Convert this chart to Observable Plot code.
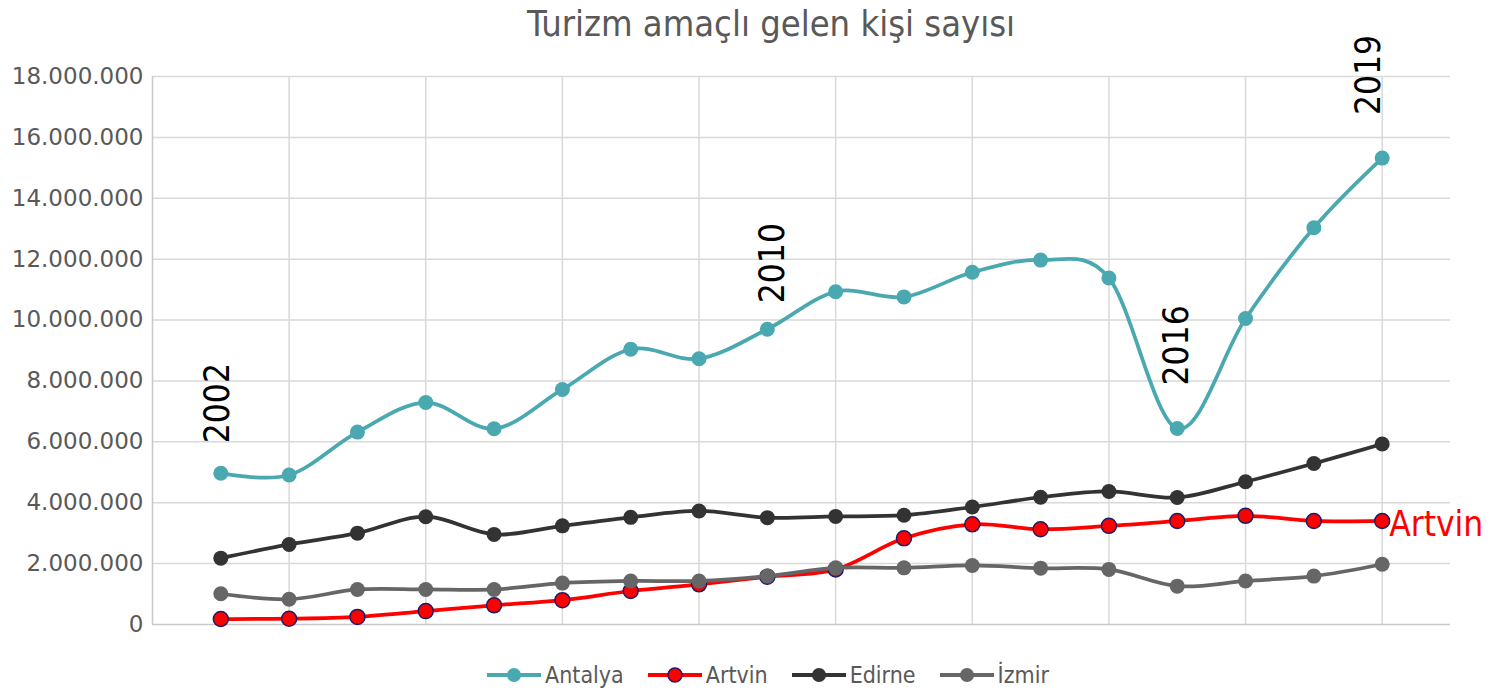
<!DOCTYPE html>
<html>
<head>
<meta charset="utf-8">
<script src="https://cdn.jsdelivr.net/npm/d3@7"></script>
<script src="https://cdn.jsdelivr.net/npm/@observablehq/plot@0.6"></script>
<style>
  body { margin: 0; background: #fff; width: 1506px; height: 691px; overflow: hidden; font-family: "DejaVu Sans", sans-serif; }
  #title { height: 36px; line-height: 48px; text-align: center; font-family: "DejaVu Sans Condensed", "DejaVu Sans", sans-serif; font-size: 36px; color: #595959; padding-left: 36px; white-space: nowrap; }
  #chart { height: 614px; }
  #legend { height: 41px; display: flex; justify-content: center; align-items: center; padding-left: 30px; padding-top: 8px; box-sizing: border-box; font-family: "DejaVu Sans Condensed", "DejaVu Sans", sans-serif; font-size: 23px; color: #595959; }
  .item { display: flex; align-items: center; margin: 0 12px; }
  .item svg { margin-right: 4px; flex: none; }
</style>
</head>
<body>
<div id="title">Turizm amaçlı gelen kişi sayısı</div>
<div id="chart"></div>
<div id="legend"></div>
<script>
const years = [2002, 2003, 2004, 2005, 2006, 2007, 2008, 2009, 2010, 2011, 2012, 2013, 2014, 2015, 2016, 2017, 2018, 2019];
const seriesNames = ["Antalya", "Artvin", "Edirne", "İzmir"];
const antalya = [4970000, 4910000, 6320000, 7290000, 6430000, 7720000, 9040000, 8730000, 9700000, 10930000, 10760000, 11570000, 11970000, 11380000, 6440000, 10050000, 13030000, 15320000];
const artvin  = [180000, 190000, 250000, 440000, 630000, 800000, 1100000, 1320000, 1570000, 1810000, 2830000, 3290000, 3130000, 3240000, 3400000, 3570000, 3400000, 3400000];
const edirne  = [2180000, 2630000, 3000000, 3540000, 2960000, 3240000, 3520000, 3730000, 3510000, 3550000, 3590000, 3860000, 4180000, 4370000, 4170000, 4690000, 5290000, 5930000];
const izmir   = [1010000, 830000, 1150000, 1150000, 1150000, 1360000, 1430000, 1430000, 1590000, 1860000, 1860000, 1940000, 1850000, 1810000, 1260000, 1430000, 1590000, 1980000];
const yTicks = [0, 2000000, 4000000, 6000000, 8000000, 10000000, 12000000, 14000000, 16000000, 18000000];
const xGridYears = [2003, 2005, 2007, 2009, 2011, 2013, 2015, 2017, 2019];
const labelYears = [2002, 2010, 2016, 2019];

const valuesByName = {"Antalya": antalya, "Artvin": artvin, "Edirne": edirne, "İzmir": izmir};
const styles = {
  "Antalya": {color: "#4aa8b0", fill: "#4aa8b0", stroke: "none"},
  "Artvin":  {color: "#ff0000", fill: "#ff0000", stroke: "#1c1c66"},
  "Edirne":  {color: "#333333", fill: "#333333", stroke: "none"},
  "İzmir":   {color: "#666666", fill: "#666666", stroke: "none"}
};

const rows = [];
for (const name of seriesNames) {
  valuesByName[name].forEach((v, i) => rows.push({series: name, year: years[i], value: v}));
}

const fmt = d => d3.format(",")(d).replace(/,/g, ".");

const marks = [
  Plot.ruleY(yTicks.slice(1), {stroke: "#d9d9d9", strokeWidth: 1.5}),
  Plot.ruleX(xGridYears, {stroke: "#d9d9d9", strokeWidth: 1.5}),
  Plot.ruleX([2001], {stroke: "#c8c8c8", strokeWidth: 1.5}),
  Plot.ruleY([0], {stroke: "#c8c8c8", strokeWidth: 1.5})
];
for (const name of seriesNames) {
  const d = rows.filter(r => r.series === name);
  const s = styles[name];
  marks.push(Plot.line(d, {x: "year", y: "value", stroke: s.color, strokeWidth: 3.75, curve: "cardinal"}));
  marks.push(Plot.dot(d, {x: "year", y: "value", r: 7.5, fill: s.fill, stroke: s.stroke, strokeWidth: s.stroke === "none" ? 0 : 1.5}));
}
const antRows = rows.filter(r => r.series === "Antalya");
const labelOpts = [
  {dx: -3, dy: -30},
  {dx: 5, dy: -26},
  {dx: 0, dy: -43},
  {dx: -13, dy: -43}
];
labelYears.forEach((yr, k) => {
  marks.push(Plot.text(antRows.filter(r => r.year === yr), {
    x: "year", y: "value", text: d => String(d.year),
    rotate: -90, textAnchor: "start", lineAnchor: "middle",
    fontSize: 35, fontFamily: "DejaVu Sans Condensed", fill: "#000",
    dx: labelOpts[k].dx, dy: labelOpts[k].dy
  }));
});
const artLast = rows.filter(r => r.series === "Artvin" && r.year === years[years.length - 1]);
marks.push(Plot.text(artLast, {
  x: "year", y: "value", text: d => d.series, textAnchor: "start", lineAnchor: "middle",
  fontSize: 35, fontFamily: "DejaVu Sans Condensed", fill: "#ff0000", dx: 7, dy: 4
}));

const plot = Plot.plot({
  width: 1506,
  height: 614,
  marginLeft: 152,
  marginRight: 56,
  marginTop: 40,
  marginBottom: 26,
  style: {fontSize: "23px", fontFamily: "DejaVu Sans", color: "#595959", background: "#fff", overflow: "visible"},
  x: {domain: [2001, 2020], axis: null},
  y: {domain: [0, 18000000], ticks: yTicks, tickFormat: fmt, tickSize: 0, tickPadding: 9, label: null},
  marks
});
document.getElementById("chart").appendChild(plot);

const legend = document.getElementById("legend");
for (const name of seriesNames) {
  const s = styles[name];
  const item = document.createElement("div");
  item.className = "item";
  item.innerHTML = `<svg width="54" height="18"><line x1="0" x2="54" y1="9" y2="9" stroke="${s.color}" stroke-width="4"/><circle cx="27" cy="9" r="7" fill="${s.fill}" stroke="${s.stroke}" stroke-width="${s.stroke === "none" ? 0 : 1.5}"/></svg><span>${name}</span>`;
  legend.appendChild(item);
}
</script>
</body>
</html>
